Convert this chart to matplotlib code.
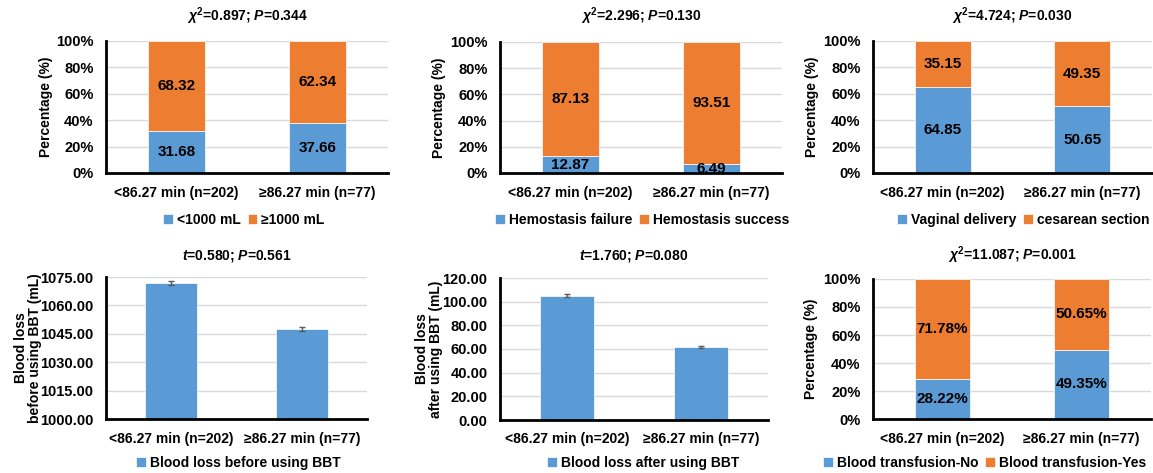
import matplotlib
matplotlib.use("Agg")
import matplotlib.pyplot as plt
from matplotlib.ticker import FuncFormatter

plt.rcParams['font.family'] = ['Liberation Sans', 'DejaVu Sans']
plt.rcParams['font.weight'] = 'bold'
plt.rcParams['axes.labelweight'] = 'bold'
plt.rcParams['mathtext.fontset'] = 'custom'
plt.rcParams['mathtext.rm'] = 'Liberation Sans:bold'
plt.rcParams['mathtext.it'] = 'Liberation Sans:italic:bold'
plt.rcParams['mathtext.bf'] = 'Liberation Sans:bold'

BLUE = '#5B9BD5'
ORANGE = '#ED7D31'

groups = ['<86.27 min (n=202)', '≥86.27 min (n=77)']

# stacked percentage panels
loss_low = [31.68, 37.66]
loss_high = [68.32, 62.34]
hemo_fail = [12.87, 6.49]
hemo_ok = [87.13, 93.51]
vaginal = [64.85, 50.65]
cesarean = [35.15, 49.35]
transf_no = [28.22, 49.35]
transf_yes = [71.78, 50.65]

# mean blood loss panels
before_mean = [1071.7, 1047.5]
before_err = [1.0, 1.0]
after_mean = [105.1, 61.8]
after_err = [1.0, 1.0]

titles = [r'$\chi^2$=0.897; $P$=0.344', r'$\chi^2$=2.296; $P$=0.130',
          r'$\chi^2$=4.724; $P$=0.030', r'$t$=0.580; $P$=0.561',
          r'$t$=1.760; $P$=0.080', r'$\chi^2$=11.087; $P$=0.001']

W, H = 1153, 473
fig = plt.figure(figsize=(W / 100, H / 100), dpi=100)


def box(l, r, t, b):
    return [l / W, 1 - b / H, (r - l) / W, (b - t) / H]


def style(ax, title, title_y):
    ax.set_xlim(-0.5, 1.5)
    ax.set_xticks([0, 1])
    ax.set_xticklabels(groups, fontsize=10)
    ax.tick_params(axis='both', length=0)
    ax.tick_params(axis='y', labelsize=10.5, pad=9)
    ax.tick_params(axis='x', pad=9)
    for s in ['top', 'right']:
        ax.spines[s].set_visible(False)
    for s in ['left', 'bottom']:
        ax.spines[s].set_linewidth(2)
        ax.spines[s].set_color('black')
    ax.grid(axis='y', color='#D9D9D9', linewidth=1)
    ax.set_axisbelow(True)
    pos = ax.get_position()
    fig.text(pos.x0 + pos.width / 2, 1 - title_y / H, title, ha='center', va='center', fontsize=10)


def add_legend(ax, leg_x, leg_y, ncol):
    fig.legend(handles=ax.get_legend_handles_labels()[0], loc='center left',
               bbox_to_anchor=(leg_x / W, 1 - leg_y / H), ncol=ncol, frameon=False,
               fontsize=10, handlelength=0.7, handleheight=0.7, handletextpad=0.3,
               columnspacing=0.5, borderaxespad=0, borderpad=0)


def stacked(rect, bottom_vals, top_vals, names, title, title_y, leg_x, leg_y, lab_x, pct=False):
    ax = fig.add_axes(box(*rect))
    x = [0, 1]
    ax.bar(x, bottom_vals, width=0.4, color=BLUE, edgecolor='white', linewidth=0.5, label=names[0])
    ax.bar(x, top_vals, width=0.4, bottom=bottom_vals, color=ORANGE, edgecolor='white', linewidth=0.5, label=names[1])
    suf = '%' if pct else ''
    for i in x:
        ax.text(i, bottom_vals[i] / 2, f'{bottom_vals[i]:.2f}{suf}', ha='center', va='center',
                fontsize=11, clip_on=True)
        ax.text(i, bottom_vals[i] + top_vals[i] / 2, f'{top_vals[i]:.2f}{suf}', ha='center', va='center',
                fontsize=11, clip_on=True)
    ax.set_ylim(0, 100)
    ax.set_yticks(range(0, 101, 20))
    ax.yaxis.set_major_formatter(FuncFormatter(lambda v, p: f'{v:.0f}%'))
    ax.set_ylabel('Percentage (%)', fontsize=10)
    ax.yaxis.set_label_coords(lab_x / (rect[1] - rect[0]), 0.5)
    style(ax, title, title_y)
    add_legend(ax, leg_x, leg_y, 2)
    return ax


def means(rect, vals, errs, ylim, yticks, ylabel, name, title, title_y, leg_x, leg_y, lab_x):
    ax = fig.add_axes(box(*rect))
    ax.bar([0, 1], [v - ylim[0] for v in vals], bottom=ylim[0], width=0.4, color=BLUE,
           edgecolor='white', linewidth=0.5, label=name)
    ax.errorbar([0, 1], vals, yerr=errs, fmt='none', ecolor='#595959', elinewidth=1, capsize=2.5)
    ax.set_ylim(*ylim)
    ax.set_yticks(yticks)
    ax.yaxis.set_major_formatter(FuncFormatter(lambda v, p: f'{v:.2f}'))
    ax.set_ylabel(ylabel, fontsize=10, linespacing=1.0)
    ax.yaxis.set_label_coords(lab_x / (rect[1] - rect[0]), 0.5)
    style(ax, title, title_y)
    add_legend(ax, leg_x, leg_y, 1)
    return ax


stacked((106, 388, 41, 173), loss_low, loss_high, ['<1000 mL', '≥1000 mL'],
        titles[0], 16, 163, 220, -53)
stacked((500, 782, 42, 173), hemo_fail, hemo_ok, ['Hemostasis failure', 'Hemostasis success'],
        titles[1], 16, 495, 220, -54)
stacked((873, 1152, 41, 173), vaginal, cesarean, ['Vaginal delivery', 'cesarean section'],
        titles[2], 16, 897, 220, -54)

means((106, 367, 277, 419), before_mean, before_err, (1000, 1075), [1000, 1015, 1030, 1045, 1060, 1075],
      'Blood loss\nbefore using BBT (mL)', 'Blood loss before using BBT', titles[3], 256, 136, 463, -64)
means((500, 768, 278, 420), after_mean, after_err, (0, 120), [0, 20, 40, 60, 80, 100, 120],
      'Blood loss\nafter using BBT (mL)', 'Blood loss after using BBT', titles[4], 256, 547, 463, -57)

stacked((873, 1151, 279, 419), transf_no, transf_yes, ['Blood transfusion-No', 'Blood transfusion-Yes'],
        titles[5], 255, 823, 463, -55, pct=True)

fig.savefig('out.png', dpi=100)
